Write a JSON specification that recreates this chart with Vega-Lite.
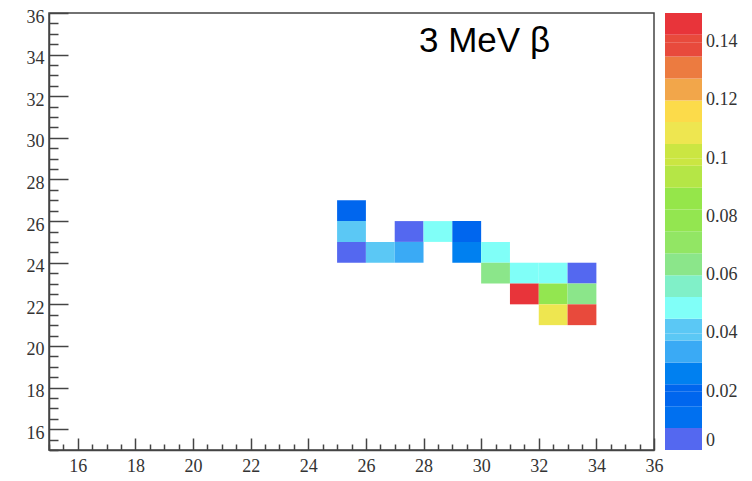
{
  "$schema": "https://vega.github.io/schema/vega-lite/v6.json",
  "width": 605,
  "height": 437,
  "autosize": {"type": "none"},
  "padding": {"left": 49, "top": 13, "right": 98, "bottom": 31},
  "background": "white",
  "title": {
    "text": "3 MeV β",
    "frame": "group",
    "anchor": "start",
    "orient": "top",
    "offset": 0,
    "baseline": "alphabetic",
    "dx": 370,
    "dy": 79,
    "font": "Liberation Sans",
    "fontSize": 35,
    "fontWeight": "normal",
    "color": "black"
  },
  "data": {
    "values": [
      {"x1": 25, "x2": 26, "y1": 26, "y2": 27, "v": 0.019},
      {"x1": 25, "x2": 26, "y1": 25, "y2": 26, "v": 0.041},
      {"x1": 27, "x2": 28, "y1": 25, "y2": 26, "v": 0.004},
      {"x1": 28, "x2": 29, "y1": 25, "y2": 26, "v": 0.049},
      {"x1": 29, "x2": 30, "y1": 25, "y2": 26, "v": 0.019},
      {"x1": 25, "x2": 26, "y1": 24, "y2": 25, "v": 0.004},
      {"x1": 26, "x2": 27, "y1": 24, "y2": 25, "v": 0.041},
      {"x1": 27, "x2": 28, "y1": 24, "y2": 25, "v": 0.034},
      {"x1": 29, "x2": 30, "y1": 24, "y2": 25, "v": 0.026},
      {"x1": 30, "x2": 31, "y1": 24, "y2": 25, "v": 0.049},
      {"x1": 30, "x2": 31, "y1": 23, "y2": 24, "v": 0.064},
      {"x1": 31, "x2": 32, "y1": 23, "y2": 24, "v": 0.049},
      {"x1": 32, "x2": 33, "y1": 23, "y2": 24, "v": 0.049},
      {"x1": 33, "x2": 34, "y1": 23, "y2": 24, "v": 0.004},
      {"x1": 31, "x2": 32, "y1": 22, "y2": 23, "v": 0.146},
      {"x1": 32, "x2": 33, "y1": 22, "y2": 23, "v": 0.079},
      {"x1": 33, "x2": 34, "y1": 22, "y2": 23, "v": 0.064},
      {"x1": 32, "x2": 33, "y1": 21, "y2": 22, "v": 0.109},
      {"x1": 33, "x2": 34, "y1": 21, "y2": 22, "v": 0.139}
    ]
  },
  "mark": {"type": "rect", "strokeWidth": 0, "opacity": 1},
  "encoding": {
    "x": {
      "field": "x1",
      "type": "quantitative",
      "scale": {"domain": [15, 36], "nice": false, "zero": false},
      "axis": {
        "title": null,
        "grid": false,
        "values": [15, 15.5, 16, 16.5, 17, 17.5, 18, 18.5, 19, 19.5, 20, 20.5, 21, 21.5, 22, 22.5, 23, 23.5, 24, 24.5, 25, 25.5, 26, 26.5, 27, 27.5, 28, 28.5, 29, 29.5, 30, 30.5, 31, 31.5, 32, 32.5, 33, 33.5, 34, 34.5, 35, 35.5, 36],
        "labelExpr": "datum.value % 2 === 0 ? format(datum.value, 'd') : ''",
        "labelFlush": false,
        "labelOverlap": false,
        "labelBound": false,
        "labelFont": "Liberation Serif",
        "labelFontSize": 18,
        "labelColor": "#333333",
        "tickSize": {"condition": {"test": "datum.value % 2 === 0", "value": -12}, "value": -6},
        "labelPadding": 19,
        "tickColor": "#444444",
        "tickWidth": 1.5,
        "domainColor": "#444444",
        "domainWidth": 1.5
      }
    },
    "x2": {"field": "x2"},
    "y": {
      "field": "y1",
      "type": "quantitative",
      "scale": {"domain": [15, 36], "nice": false, "zero": false},
      "axis": {
        "title": null,
        "grid": false,
        "values": [15, 15.5, 16, 16.5, 17, 17.5, 18, 18.5, 19, 19.5, 20, 20.5, 21, 21.5, 22, 22.5, 23, 23.5, 24, 24.5, 25, 25.5, 26, 26.5, 27, 27.5, 28, 28.5, 29, 29.5, 30, 30.5, 31, 31.5, 32, 32.5, 33, 33.5, 34, 34.5, 35, 35.5, 36],
        "labelExpr": "datum.value % 2 === 0 ? format(datum.value, 'd') : ''",
        "labelFlush": false,
        "labelOverlap": false,
        "labelBound": false,
        "labelFont": "Liberation Serif",
        "labelFontSize": 18,
        "labelColor": "#333333",
        "labelOffset": 4,
        "tickSize": {"condition": {"test": "datum.value % 2 === 0", "value": -19}, "value": -9},
        "labelPadding": 24,
        "tickColor": "#444444",
        "tickWidth": 1.5,
        "domainColor": "#444444",
        "domainWidth": 1.5
      }
    },
    "y2": {"field": "y2"},
    "color": {
      "field": "v",
      "type": "quantitative",
      "scale": {
        "type": "quantize",
        "domain": [0, 0.15],
        "nice": false,
        "range": ["#5468F0", "#0070F0", "#0066EE", "#0080F0", "#3AAAF5", "#5BC8F5", "#80FFF8", "#80F0C8", "#8BE68A", "#92E664", "#93E650", "#95E64A", "#B5E646", "#CBE642", "#EEE650", "#FCDB4A", "#F2A64A", "#EC7B40", "#E84A3C", "#E8343A"]
      },
      "legend": {
        "type": "gradient",
        "orient": "none",
        "legendX": 616,
        "legendY": 0,
        "direction": "vertical",
        "gradientLength": 437,
        "gradientThickness": 37,
        "gradientStrokeWidth": 0,
        "title": null,
        "padding": 0,
        "values": [0, 0.00755, 0.01505, 0.02, 0.02255, 0.03005, 0.03755, 0.04, 0.04505, 0.05255, 0.06, 0.06005, 0.06755, 0.07505, 0.08, 0.08255, 0.09005, 0.09755, 0.1, 0.10505, 0.11255, 0.12, 0.12005, 0.12755, 0.13505, 0.14, 0.14255],
        "labelExpr": "indexof([0, 0.02, 0.04, 0.06, 0.08, 0.1, 0.12, 0.14], datum.value) >= 0 ? '' + datum.value : ''",
        "labelFont": "Liberation Serif",
        "labelFontSize": 18,
        "labelColor": "#333333",
        "labelOffset": 4,
        "labelOverlap": false,
        "labelBaseline": "middle"
      }
    }
  },
  "config": {"view": {"stroke": "#444444", "strokeWidth": 1.5}}
}
